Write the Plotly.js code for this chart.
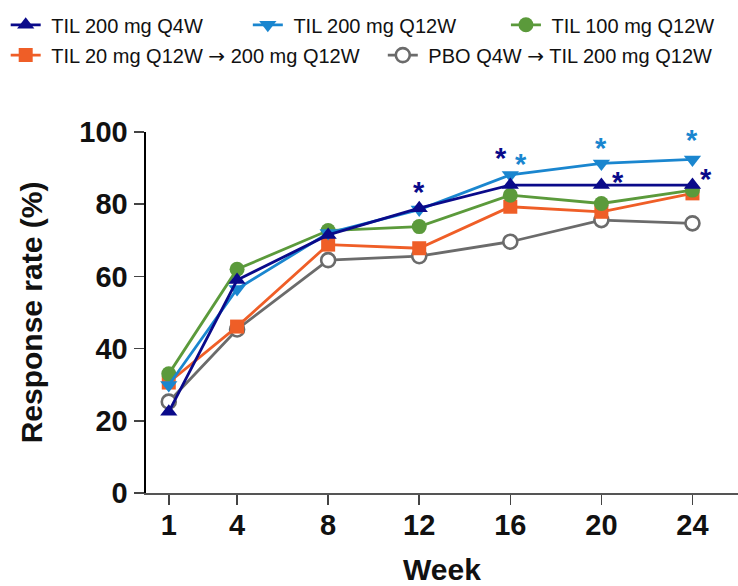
<!DOCTYPE html>
<html>
<head>
<meta charset="utf-8">
<script src="https://cdn.plot.ly/plotly-3.0.1.min.js"></script>
<style>html,body{margin:0;padding:0;background:#fff;}#chart{width:738px;height:586px;}</style>
</head>
<body>
<div id="chart"></div>
<script>
// ---- data ----
var weeks = [1, 4, 8, 12, 16, 20, 24];
var weekTicks = ['1', '4', '8', '12', '16', '20', '24'];
var til200q4w  = [22.5, 59.0, 71.5, 78.9, 85.3, 85.3, 85.3];
var til200q12w = [29.9, 56.5, 72.0, 78.5, 88.1, 91.3, 92.4];
var til100q12w = [33.0, 62.0, 72.7, 73.8, 82.5, 80.2, 83.9];
var til20q12w  = [30.6, 46.1, 68.8, 67.8, 79.3, 77.9, 83.0];
var pboQ4w     = [25.3, 45.3, 64.5, 65.6, 69.6, 75.6, 74.7];
var ARROW = '<span style="font-family:DejaVu Sans">\u2192</span>';
var seriesNames = ['TIL 200 mg Q4W', 'TIL 200 mg Q12W', 'TIL 100 mg Q12W',
                   'TIL 20 mg Q12W ' + ARROW + ' 200 mg Q12W', 'PBO Q4W ' + ARROW + ' TIL 200 mg Q12W'];
// significance asterisks (week, response %, series index)
var starWeek   = [12, 15.57, 16.45, 20.0, 20.72, 23.97, 24.58];
var starValue  = [85.0, 94.5, 92.7, 97.3, 87.9, 99.4, 88.6];
var starSeries = [0, 0, 1, 1, 0, 1, 0];

var colors = ['#0a0a8a', '#1a86cf', '#5b9a3b', '#ef5e27', '#6b6b6b'];
// legend slot for each series (one legend per entry)
var legendIds = ['legend', 'legend2', 'legend3', 'legend4', 'legend5'];

function tr(y, idx, symbol, size, fill) {
  return {
    x: weeks, y: y, name: '\u00a0' + seriesNames[idx], type: 'scatter', mode: 'lines+markers',
    legend: legendIds[idx],
    line: {color: colors[idx], width: 2.8},
    marker: {symbol: symbol, size: size, color: fill || colors[idx],
             line: {color: colors[idx], width: fill ? 2.6 : 0}},
    cliponaxis: false
  };
}

var data = [
  tr(pboQ4w, 4, 'circle', 14, '#ffffff'),
  tr(til20q12w, 3, 'square', 14, null),
  tr(til100q12w, 2, 'circle', 15, null),
  tr(til200q12w, 1, 'triangle-down', 15, null),
  tr(til200q4w, 0, 'triangle-up', 15, null)
];

var annotations = starWeek.map(function (w, i) {
  return {x: w, y: starValue[i], xref: 'x', yref: 'y', text: '<b>*</b>', showarrow: false,
          font: {family: 'Liberation Sans, Arial', size: 29, color: colors[starSeries[i]]},
          xanchor: 'center', yanchor: 'middle', yshift: -6};
});

function leg(x, y) {
  return {
    x: x, y: y, orientation: 'h', itemsizing: 'trace',
    font: {family: 'Liberation Sans, Arial', size: 20, color: '#111'},
    bgcolor: 'rgba(0,0,0,0)', xanchor: 'left', yanchor: 'middle', itemclick: false
  };
}

var layout = {
  width: 738, height: 586,
  margin: {l: 146, r: 0, t: 132, b: 93, autoexpand: false},
  paper_bgcolor: '#ffffff', plot_bgcolor: '#ffffff',
  font: {family: 'Liberation Sans, Arial', color: '#111'},
  showlegend: true,
  legend:  leg(-0.237, 1.297),
  legend2: leg(0.172, 1.297),
  legend3: leg(0.608, 1.297),
  legend4: leg(-0.237, 1.213),
  legend5: leg(0.400, 1.213),
  xaxis: {
    range: [0, 26], tickmode: 'array', tickvals: weeks, ticktext: weekTicks,
    showgrid: false, zeroline: false, showline: true, linecolor: '#555', linewidth: 1.5,
    ticks: 'outside', ticklen: 10, tickwidth: 1.5, tickcolor: '#444', ticklabelstandoff: -4,
    tickfont: {family: 'Liberation Sans, Arial', size: 29, color: '#111', weight: 'bold'},
    title: {text: '<b>Week</b>', font: {family: 'Liberation Sans, Arial', size: 30, color: '#111'}, standoff: 25}
  },
  yaxis: {
    range: [0, 100], tickmode: 'array', tickvals: [0, 20, 40, 60, 80, 100],
    showgrid: false, zeroline: false, showline: true, linecolor: '#000', linewidth: 2.5,
    ticks: 'outside', ticklen: 10, tickwidth: 1.5, tickcolor: '#444',
    tickfont: {family: 'Liberation Sans, Arial', size: 29, color: '#111', weight: 'bold'},
    title: {text: '<b>Response rate (%)</b>', font: {family: 'Liberation Sans, Arial', size: 30, color: '#111'}, standoff: 28}
  },
  annotations: annotations
};

Plotly.newPlot('chart', data, layout, {staticPlot: true, displayModeBar: false});
</script>
</body>
</html>
